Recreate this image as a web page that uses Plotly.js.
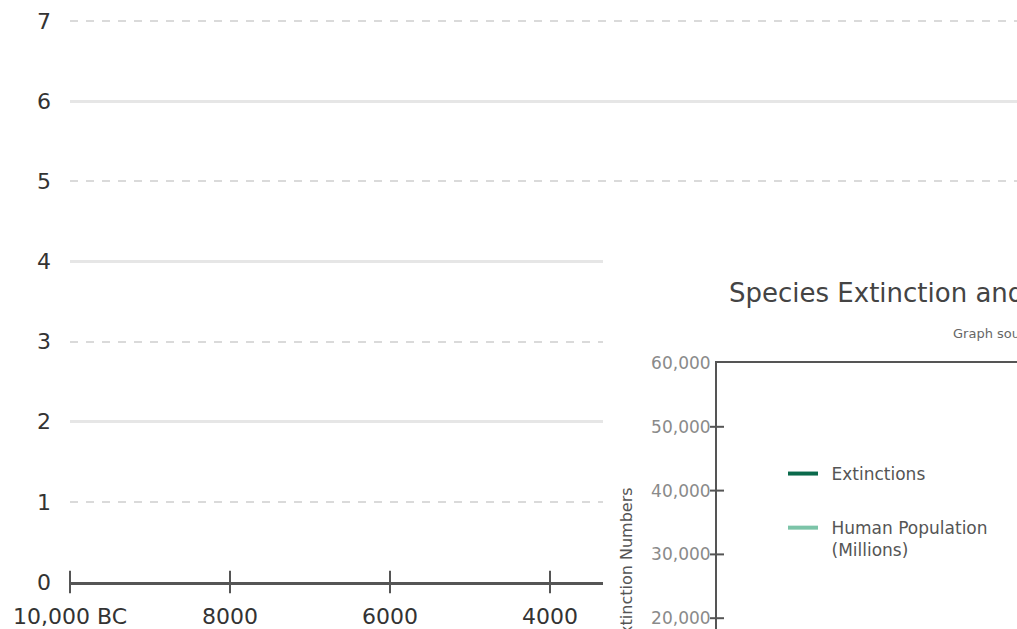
<!DOCTYPE html>
<html>
<head>
<meta charset="utf-8">
<script src="https://cdn.plot.ly/plotly-3.0.1.min.js"></script>
<style>html,body{margin:0;padding:0;background:#fff;}#chart{width:1017px;height:629px;}</style>
</head>
<body>
<div id="chart"></div>
<script>
// ---- main chart: world population (billions) axis frame ----
var yearTicks = [-10000, -8000, -6000, -4000];
var yearTickText = ['10,000 BC', '8000', '6000', '4000'];
var popTicks = [0, 1, 2, 3, 4, 5, 6, 7];
var popTickText = ['0', '1', '2', '3', '4', '5', '6', '7'];
var axisBase = [0, 0, 0, 0];

// ---- inset chart: Species Extinction (its data lies outside the visible crop) ----
var insetTitle = 'Species Extinction and Human Population';
var insetSource = 'Graph source';
var insetYTitle = 'Extinction Numbers';
var extTicks = [20000, 30000, 40000, 50000, 60000];
var extTickMarks = [20000, 30000, 40000, 50000];
var extYears = [null];
var extinctions = [null];
var popYears = [null];
var humanPopMillions = [null];
var seriesNames = ['\u2002Extinctions', '\u2002Human Population<br>\u2002(Millions)'];
var insetXStart = [0, 0, 0, 0];
var panelPlaceholder = [null];

var W = 1017, H = 629;
var FONT = 'DejaVu Sans, sans-serif';

var traces = [
  {
    x: yearTicks, y: axisBase, xaxis: 'x', yaxis: 'y',
    type: 'scatter', mode: 'markers', cliponaxis: false,
    marker: {symbol: 'line-ns', size: 16, color: '#555', line: {color: '#555', width: 2}},
    showlegend: false, hoverinfo: 'skip'
  },
  {
    x: yearTicks, y: axisBase, xaxis: 'x', yaxis: 'y2',
    type: 'scatter', mode: 'markers', marker: {opacity: 0, size: 1},
    showlegend: false, hoverinfo: 'skip'
  },
  {
    x: panelPlaceholder, y: panelPlaceholder, xaxis: 'x2', yaxis: 'y3',
    type: 'scatter', mode: 'markers', showlegend: false, hoverinfo: 'skip'
  },
  {
    x: extYears, y: extinctions, xaxis: 'x3', yaxis: 'y4',
    type: 'scatter', mode: 'lines', name: seriesNames[0], legendgroup: 'a',
    line: {color: '#0b6a4c', width: 4}
  },
  {
    x: popYears, y: humanPopMillions, xaxis: 'x3', yaxis: 'y4',
    type: 'scatter', mode: 'lines', name: seriesNames[1], legendgroup: 'b',
    line: {color: '#7cc4a8', width: 4}
  },
  {
    x: insetXStart, y: extTickMarks, xaxis: 'x3', yaxis: 'y4',
    type: 'scatter', mode: 'markers', cliponaxis: false,
    marker: {symbol: 'line-ew', size: 10, color: '#555', line: {color: '#555', width: 2}},
    showlegend: false, hoverinfo: 'skip'
  }
];

var mainDomY = [(H - 582) / H, 1];
var mainRangeY = [0, 582 / 80.14];

var layout = {
  width: W, height: H,
  margin: {l: 0, r: 0, t: 0, b: 0, pad: 0},
  paper_bgcolor: '#fff', plot_bgcolor: '#fff',
  font: {family: FONT, color: '#333', size: 20},
  showlegend: true,
  xaxis: {
    domain: [70 / W, 1], range: [-10000, -10000 + (W - 70) / 160 * 2000],
    tickvals: yearTicks, ticktext: yearTickText, ticks: '',
    showgrid: false, zeroline: false,
    showline: true, linecolor: '#555', linewidth: 3,
    tickfont: {size: 22, color: '#333'}, ticklabelstandoff: 13
  },
  yaxis: {
    domain: mainDomY, range: mainRangeY, anchor: 'x',
    tickvals: popTicks, ticktext: popTickText, ticks: '',
    showgrid: false, zeroline: false, showline: false,
    tickfont: {size: 22, color: '#333'}, ticklabelstandoff: 18
  },
  yaxis2: {
    overlaying: 'y', anchor: 'x', range: mainRangeY,
    tick0: 0, dtick: 2, showticklabels: false, ticks: '',
    showgrid: true, gridcolor: '#e6e6e6', gridwidth: 3, zeroline: false,
    minor: {tick0: 0, dtick: 1, showgrid: true, gridcolor: '#dadada', gridwidth: 2, griddash: '8px,8px', ticks: ''}
  },
  // inset backing panel
  xaxis2: {domain: [603 / W, 1], anchor: 'y3', range: [0, 1], showline: false, showticklabels: false, ticks: '', showgrid: false, zeroline: false},
  yaxis3: {domain: [0, (H - 240) / H], anchor: 'x2', range: [0, 1], showline: false, showticklabels: false, ticks: '', showgrid: false, zeroline: false},
  // inset plot
  xaxis3: {
    domain: [717 / W, 1], anchor: 'y4', side: 'top', range: [0, 1],
    showline: true, linecolor: '#555', linewidth: 2,
    showticklabels: false, ticks: '', showgrid: false, zeroline: false
  },
  yaxis4: {
    domain: [0, (H - 363) / H], anchor: 'x3',
    range: [60000 - (H - 363) / 63.8 * 10000, 60000],
    tickvals: extTicks, tickformat: ',d', ticks: '',
    showline: true, linecolor: '#555', linewidth: 2,
    showgrid: false, zeroline: false,
    tickfont: {size: 17, color: '#8a8a8a'}, ticklabelstandoff: 1
  },
  legend: {
    x: 783 / W, xanchor: 'left', y: (H - 456) / H, yanchor: 'top',
    bgcolor: 'rgba(0,0,0,0)', borderwidth: 0,
    font: {family: FONT, size: 17, color: '#555'},
    valign: 'top', tracegroupgap: 29, traceorder: 'grouped'
  },
  annotations: [
    {text: insetTitle, xref: 'paper', yref: 'paper', x: 727 / W, y: (H - 293) / H,
     xanchor: 'left', yanchor: 'middle', showarrow: false,
     font: {family: FONT, size: 26, color: '#444'}},
    {text: insetSource, xref: 'paper', yref: 'paper', x: 951 / W, y: (H - 333) / H,
     xanchor: 'left', yanchor: 'middle', showarrow: false,
     font: {family: FONT, size: 13, color: '#666'}},
    {text: insetYTitle, xref: 'paper', yref: 'paper', x: 626 / W, y: (H - 566) / H,
     xanchor: 'center', yanchor: 'middle', textangle: -90, showarrow: false,
     font: {family: FONT, size: 16, color: '#555'}}
  ]
};

Plotly.newPlot('chart', traces, layout, {displayModeBar: false, staticPlot: true});
</script>
</body>
</html>
